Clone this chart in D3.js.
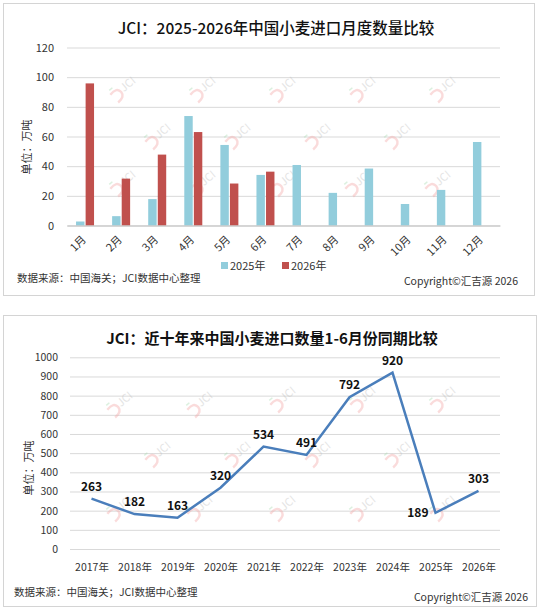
<!DOCTYPE html>
<html>
<head>
<meta charset="utf-8">
<script src="https://cdn.jsdelivr.net/npm/d3@7"></script>
<style>
  body { margin: 0; background: #fff; }
  svg text { font-family: "Noto Sans CJK SC", "Noto Sans", sans-serif; }
</style>
</head>
<body>
<div id="chart"></div>
<script>
// ---- data ----
const months = ["1月", "2月", "3月", "4月", "5月", "6月", "7月", "8月", "9月", "10月", "11月", "12月"];
const seriesNames = ["2025年", "2026年"];
const values2025 = [2.7, 6.3, 17.8, 73.8, 54.3, 34.1, 40.8, 22, 38.4, 14.5, 24, 56.3];
const values2026 = [95.8, 31.6, 47.8, 63, 28.3, 36.3];
const monthTicks = [0, 20, 40, 60, 80, 100, 120];

const years = ["2017年", "2018年", "2019年", "2020年", "2021年", "2022年", "2023年", "2024年", "2025年", "2026年"];
const h1Values = [263, 182, 163, 320, 534, 491, 792, 920, 189, 303];
const yearTicks = [0, 100, 200, 300, 400, 500, 600, 700, 800, 900, 1000];

const titleTop = "JCI：2025-2026年中国小麦进口月度数量比较";
const titleBottom = "JCI：近十年来中国小麦进口数量1-6月份同期比较";
const unitLabel = "单位：万吨";
const sourceText = "数据来源：中国海关；JCI数据中心整理";
const copyrightText = "Copyright©汇吉源 2026";

const colors = { "2025年": "#92CDDC", "2026年": "#C0504D" };
const lineColor = "#4A7EBB";
const gridColor = "#d9d9d9";
const textColor = "#333";
const fontFam = "'Noto Sans CJK SC', 'Noto Sans', sans-serif";

const svg = d3.select("#chart").append("svg")
    .attr("width", 540)
    .attr("height", 610);

// panel frames
svg.append("rect").attr("x", 3.5).attr("y", 3.5).attr("width", 531).attr("height", 292)
    .attr("fill", "#fff").attr("stroke", "#d4d4d4");
svg.append("rect").attr("x", 3.5).attr("y", 315.5).attr("width", 533).attr("height", 291)
    .attr("fill", "#fff").attr("stroke", "#d4d4d4");

// watermark logo
function watermark(g, cx, cy) {
    const w = g.append("g")
        .attr("transform", `translate(${cx},${cy}) rotate(-40)`)
        .attr("opacity", 0.4);
    w.append("path")
        .attr("d", "M-14,-3 Q-4,-5 -4,2 Q-4,8 -13,8")
        .attr("fill", "none")
        .attr("stroke", "#f4a6a6")
        .attr("stroke-width", 2.4);
    w.append("line")
        .attr("x1", -12).attr("y1", -7).attr("x2", -8).attr("y2", -7)
        .attr("stroke", "#a8dcb0").attr("stroke-width", 1.5);
    w.append("text")
        .attr("x", -2).attr("y", 4)
        .attr("font-size", 11)
        .attr("fill", "#bdbdbd")
        .text("JCI");
}

// ================= top chart =================
const topG = svg.append("g");

const xM = d3.scaleBand().domain(months).range([67, 500]);
const yM = d3.scaleLinear().domain([0, 120]).range([225.5, 47.5]);
const xS = d3.scaleBand().domain(seriesNames)
    .range([xM.bandwidth() / 2 - 9, xM.bandwidth() / 2 + 9])
    .paddingInner(0.12);

topG.append("text")
    .attr("x", 276).attr("y", 29)
    .attr("dy", "0.35em")
    .attr("text-anchor", "middle")
    .attr("font-size", 15.5)
    .attr("font-weight", 500)
    .attr("fill", "#111")
    .text(titleTop);

// grid + y axis
topG.append("g")
    .attr("transform", "translate(67,0)")
    .call(d3.axisLeft(yM).tickValues(monthTicks).tickSize(-433).tickPadding(13))
    .call(g => g.select(".domain").remove())
    .call(g => g.selectAll(".tick line").attr("stroke", gridColor))
    .call(g => g.selectAll(".tick text").attr("font-size", 11).attr("fill", textColor)
        .attr("font-family", fontFam));

// watermarks behind bars
[[123, 88], [203, 88], [283, 88], [363, 88], [443, 88],
 [158, 135], [238, 135], [318, 135], [398, 135],
 [123, 182], [203, 182], [283, 182], [358, 182], [438, 182]]
    .forEach(p => watermark(topG, p[0], p[1]));

const monthRows = months.map((m, i) => ({
    month: m,
    vals: [
        { s: "2025年", v: values2025[i] },
        { s: "2026年", v: values2026[i] }
    ].filter(d => d.v !== undefined)
}));

topG.append("g")
    .selectAll("g")
    .data(monthRows)
    .join("g")
    .attr("transform", d => `translate(${xM(d.month)},0)`)
    .selectAll("rect")
    .data(d => d.vals)
    .join("rect")
    .attr("x", d => xS(d.s))
    .attr("width", xS.bandwidth())
    .attr("y", d => yM(d.v))
    .attr("height", d => yM(0) - yM(d.v))
    .attr("fill", d => colors[d.s]);

// x axis
topG.append("g")
    .attr("transform", `translate(0,${yM(0)})`)
    .call(d3.axisBottom(xM).tickSize(0).tickPadding(0))
    .call(g => g.select(".domain").attr("stroke", "#bfbfbf"))
    .call(g => g.selectAll(".tick text")
        .attr("font-size", 11)
        .attr("fill", textColor)
        .attr("font-family", fontFam)
        .attr("text-anchor", "end")
        .attr("dy", "0.35em")
        .attr("transform", "translate(-1,12) rotate(-45)"));

topG.append("text")
    .attr("transform", "translate(27,147) rotate(-90)")
    .attr("text-anchor", "middle")
    .attr("dy", "0.35em")
    .attr("font-size", 11)
    .attr("fill", textColor)
    .text(unitLabel);

// legend
const legend = topG.append("g")
    .selectAll("g")
    .data(seriesNames)
    .join("g")
    .attr("transform", (d, i) => `translate(${221 + i * 61},266)`);
legend.append("rect")
    .attr("x", 0).attr("y", -4)
    .attr("width", 7).attr("height", 7)
    .attr("fill", d => colors[d]);
legend.append("text")
    .attr("x", 9).attr("dy", "0.35em")
    .attr("font-size", 11)
    .attr("fill", textColor)
    .text(d => d);

topG.append("text")
    .attr("x", 17).attr("y", 278).attr("dy", "0.35em")
    .attr("font-size", 10.5).attr("fill", textColor)
    .text(sourceText);
topG.append("text")
    .attr("x", 518).attr("y", 281).attr("dy", "0.35em")
    .attr("text-anchor", "end")
    .attr("font-size", 10.5).attr("fill", textColor)
    .text(copyrightText);

// ================= bottom chart =================
const botG = svg.append("g");

const xY = d3.scalePoint().domain(years).range([91.5, 478.5]);
const yY = d3.scaleLinear().domain([0, 1000]).range([549, 357.3]);

botG.append("text")
    .attr("x", 272).attr("y", 339)
    .attr("dy", "0.35em")
    .attr("text-anchor", "middle")
    .attr("font-size", 15)
    .attr("font-weight", "bold")
    .attr("fill", "#111")
    .text(titleBottom);

botG.append("g")
    .attr("transform", "translate(70,0)")
    .call(d3.axisLeft(yY).tickValues(yearTicks).tickFormat(d3.format("d")).tickSize(-430).tickPadding(12))
    .call(g => g.select(".domain").remove())
    .call(g => g.selectAll(".tick line").attr("stroke", gridColor))
    .call(g => g.selectAll(".tick text").attr("font-size", 10.5).attr("fill", textColor)
        .attr("font-family", fontFam));

[[120, 403], [200, 403], [283, 398], [363, 398], [443, 398],
 [158, 453], [238, 453], [318, 453], [398, 453],
 [120, 507], [200, 507], [283, 507], [363, 507], [443, 507]]
    .forEach(p => watermark(botG, p[0], p[1]));

botG.append("g")
    .attr("transform", `translate(0,${yY(0)})`)
    .call(d3.axisBottom(xY).tickSize(0).tickPadding(15))
    .call(g => g.select(".domain").remove())
    .call(g => g.selectAll(".tick text").attr("font-size", 10.5).attr("fill", textColor)
        .attr("font-family", fontFam));

const points = years.map((y, i) => ({ year: y, v: h1Values[i] }));

botG.append("path")
    .datum(points)
    .attr("fill", "none")
    .attr("stroke", lineColor)
    .attr("stroke-width", 2.5)
    .attr("stroke-linejoin", "miter")
    .attr("d", d3.line().x(d => xY(d.year)).y(d => yY(d.v)));

// point labels: above, except the dip in 2025 which sits to the left
botG.append("g")
    .selectAll("text")
    .data(points)
    .join("text")
    .attr("x", d => d.year === "2025年" ? xY(d.year) - 7 : xY(d.year))
    .attr("y", d => d.year === "2025年" ? yY(d.v) : yY(d.v) - 12)
    .attr("dy", "0.35em")
    .attr("text-anchor", d => d.year === "2025年" ? "end" : "middle")
    .attr("font-size", 12)
    .attr("font-weight", "bold")
    .attr("fill", "#111")
    .text(d => d.v);

botG.append("text")
    .attr("transform", "translate(29,468) rotate(-90)")
    .attr("text-anchor", "middle")
    .attr("dy", "0.35em")
    .attr("font-size", 11)
    .attr("fill", textColor)
    .text(unitLabel);

botG.append("text")
    .attr("x", 14).attr("y", 592).attr("dy", "0.35em")
    .attr("font-size", 10.5).attr("fill", textColor)
    .text(sourceText);
botG.append("text")
    .attr("x", 528).attr("y", 597).attr("dy", "0.35em")
    .attr("text-anchor", "end")
    .attr("font-size", 10.5).attr("fill", textColor)
    .text(copyrightText);
</script>
</body>
</html>
